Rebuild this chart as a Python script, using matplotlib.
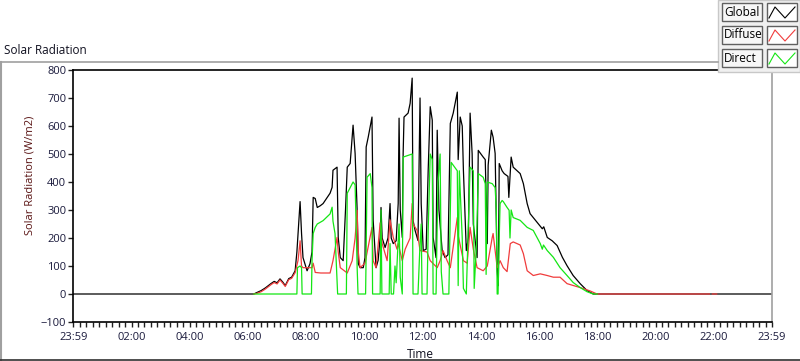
import matplotlib
matplotlib.use("Agg")
import matplotlib.pyplot as plt
from matplotlib.lines import Line2D
from matplotlib.patches import Rectangle
from matplotlib.ticker import FixedLocator, MultipleLocator
import numpy as np

plt.rcParams['font.family'] = ['Open Sans', 'DejaVu Sans']

# временные метки в часах, значения в W/m2
global_t = [0, 6.2, 6.3, 6.45, 6.6, 6.7, 6.8, 6.9, 7.0, 7.1, 7.2, 7.28, 7.4, 7.5, 7.62,
            7.68, 7.72, 7.79, 7.84, 7.89, 8.03, 8.13, 8.2, 8.24, 8.31, 8.38, 8.48, 8.58,
            8.82, 8.89, 8.92, 9.06, 9.1, 9.17, 9.27, 9.35, 9.41, 9.51, 9.58, 9.61, 9.68,
            9.75, 9.79, 9.85, 9.96, 10.02, 10.06, 10.13, 10.26, 10.3, 10.4, 10.47, 10.54,
            10.57, 10.61, 10.71, 10.81, 10.88, 10.92, 10.99, 11.09, 11.16, 11.19, 11.23,
            11.3, 11.33, 11.36, 11.5, 11.57, 11.64, 11.67, 11.74, 11.84, 11.91, 11.95,
            12.02, 12.12, 12.19, 12.26, 12.33, 12.36, 12.46, 12.5, 12.56, 12.67, 12.77,
            12.87, 12.95, 13.05, 13.19, 13.22, 13.29, 13.36, 13.4, 13.5, 13.57, 13.63,
            13.7, 13.74, 13.87, 13.91, 14.08, 14.15, 14.22, 14.25, 14.36, 14.42, 14.49,
            14.56, 14.6, 14.63, 14.73, 14.8, 14.93, 14.96, 15.04, 15.11, 15.35, 15.46,
            15.59, 15.69, 15.93, 16.11, 16.16, 16.28, 16.45, 16.62, 16.8, 16.96, 17.17,
            17.41, 17.65, 17.86, 24]
global_v = [0, 0, 5, 12, 22, 30, 38, 45, 40, 54, 42, 30, 55, 60, 83,
            150, 216, 330, 216, 130, 83, 108, 150, 345, 341, 309, 315, 323,
            360, 381, 442, 453, 202, 130, 119, 300, 453, 466, 560, 603, 502,
            299, 108, 94, 94, 130, 525, 560, 632, 263, 94, 120, 202,
            309, 200, 166, 200, 323, 200, 180, 190, 323, 628, 300,
            202, 502, 632, 646, 681, 771, 263, 227, 191, 700, 323,
            155, 160, 442, 669, 621, 202, 130, 585, 300, 155, 130,
            140, 609, 646, 721, 480, 632, 600, 442, 155, 200, 646,
            500, 250, 130, 513, 489, 480, 180, 460, 585, 560, 502,
            83, 30, 466, 440, 430, 420, 345, 489, 453, 430, 394,
            323, 287, 256, 233, 240, 202, 190, 173, 131, 101, 66,
            37, 12, 0, 0]

diffuse_t = [6.2, 6.3, 6.45, 6.6, 6.7, 6.8, 6.9, 7.0, 7.1, 7.2, 7.28, 7.4, 7.5, 7.62,
             7.72, 7.79, 7.84, 7.89, 8.03, 8.2, 8.24, 8.31, 8.5, 8.82, 8.92, 9.06, 9.1,
             9.17, 9.41, 9.58, 9.68, 9.75, 9.79, 9.85, 10.02, 10.26, 10.3, 10.4, 10.54,
             10.61, 10.78, 10.88, 10.99, 11.12, 11.16, 11.3, 11.4, 11.57, 11.64, 11.67,
             11.81, 11.91, 12.15, 12.26, 12.5, 12.6, 12.7, 12.84, 12.95, 13.19, 13.22,
             13.4, 13.53, 13.63, 13.74, 13.87, 14.08, 14.22, 14.39, 14.42, 14.56, 14.66,
             14.77, 14.9, 15.01, 15.11, 15.35, 15.46, 15.59, 15.8, 16.04, 16.28, 16.49,
             16.72, 16.96, 17.41, 17.75, 17.99, 18.2, 21.85, 21.86, 21.94, 21.95, 22.1]
diffuse_v = [0, 2, 8, 18, 26, 34, 41, 36, 50, 38, 27, 51, 56, 76,
             120, 190, 100, 94, 94, 94, 110, 77, 75, 75, 119, 202, 150,
             94, 75, 119, 200, 299, 150, 94, 110, 238, 119, 94, 254,
             180, 119, 265, 202, 160, 180, 119, 160, 200, 323, 250,
             227, 155, 150, 119, 94, 119, 155, 119, 94, 273, 210,
             119, 110, 238, 160, 94, 83, 100, 202, 216, 94, 119,
             94, 80, 180, 186, 175, 144, 83, 66, 72, 66, 60,
             60, 37, 23, 11, 0, 0, 0, np.nan, np.nan, 0, 0]

direct_t = [6.2, 7.68, 7.7, 7.79, 7.84, 7.86, 8.18, 8.2, 8.24, 8.31, 8.38, 8.58, 8.82,
            8.89, 8.92, 8.99, 9.06, 9.08, 9.38, 9.41, 9.51, 9.61, 9.68, 9.75, 9.78,
            10.04, 10.06, 10.09, 10.2, 10.26, 10.28, 10.54, 10.57, 10.6, 10.85, 10.88,
            10.92, 11.0, 11.05, 11.09, 11.14, 11.19, 11.23, 11.3, 11.33, 11.64, 11.67,
            11.84, 11.91, 11.95, 11.98, 12.15, 12.19, 12.26, 12.33, 12.36, 12.46, 12.5,
            12.53, 12.6, 12.64, 12.7, 12.9, 12.98, 13.05, 13.19, 13.22, 13.26, 13.36,
            13.4, 13.5, 13.57, 13.63, 13.74, 13.77, 13.85, 13.91, 14.08, 14.15, 14.18,
            14.22, 14.39, 14.49, 14.53, 14.56, 14.59, 14.63, 14.66, 14.73, 14.77, 14.9,
            14.97, 15.0, 15.04, 15.11, 15.35, 15.59, 15.8, 16.04, 16.11, 16.15, 16.28,
            16.49, 16.72, 16.96, 17.17, 17.41, 17.65, 17.86, 18.0]
direct_v = [0, 0, 94, 100, 94, 0, 0, 119, 216, 238, 250, 262, 286,
            310, 260, 216, 47, 0, 0, 360, 380, 400, 390, 94, 0,
            0, 155, 417, 430, 380, 0, 0, 300, 0, 0, 180,
            0, 0, 100, 40, 150, 250, 60, 0, 489, 500, 0,
            0, 180, 250, 0, 0, 227, 500, 480, 0, 0, 250,
            400, 500, 80, 0, 0, 470, 460, 440, 30, 440, 200,
            20, 0, 250, 453, 440, 20, 180, 430, 417, 394, 70,
            400, 394, 380, 300, 0, 0, 200, 323, 334, 330, 309,
            299, 200, 300, 273, 263, 238, 227, 180, 160, 175, 155,
            131, 94, 66, 41, 23, 8, 0, 0]

names = ['Global', 'Diffuse', 'Direct']
colors = ['#000000', '#f03c3c', '#14e614']

W, H = 800, 361
fig = plt.figure(figsize=(W / 100, H / 100), dpi=100)
fig.patch.set_facecolor('white')

def fx(x):
    return x / W

def fy(y):
    return 1 - y / H

# рамка панели графика
fig.add_artist(Line2D([fx(0.5), fx(718)], [fy(62), fy(62)], color='#a0a0a0', lw=1.2))
fig.add_artist(Line2D([fx(0.5), fx(0.5)], [fy(62), fy(361)], color='#a0a0a0', lw=1.5))
fig.add_artist(Line2D([fx(0), fx(800)], [fy(360), fy(360)], color='#303030', lw=1.2))

ax = fig.add_axes([fx(73.3), fy(322), fx(772 - 73.3), (322 - 70) / H])
ax.plot(global_t, global_v, color=colors[0], lw=0.9)
ax.plot(diffuse_t, diffuse_v, color=colors[1], lw=0.9)
ax.plot(direct_t, direct_v, color=colors[2], lw=0.9)

ax.set_xlim(0, 24)
ax.set_ylim(-100, 800)
ax.yaxis.set_major_locator(MultipleLocator(100))
ax.xaxis.set_major_locator(FixedLocator(np.arange(0, 25, 2)))
ax.xaxis.set_minor_locator(MultipleLocator(2 / 9))
xlabels = ['23:59'] + ['%02d:00' % h for h in range(2, 24, 2)] + ['23:59']
ax.set_xticklabels(xlabels)

tick_col = '#1a1a3c'
ax.tick_params(axis='both', which='both', direction='out', length=3.5, width=1,
               colors='#202020', labelcolor=tick_col, labelsize=8)
ax.tick_params(axis='x', pad=4)
ax.tick_params(axis='y', pad=1.5)
for s in ['left', 'top', 'bottom']:
    ax.spines[s].set_color('#000000')
    ax.spines[s].set_linewidth(1.2)
ax.spines['right'].set_color('#a0a0a0')
ax.spines['right'].set_linewidth(1.2)

fig.text(fx(4), fy(50), 'Solar Radiation', fontsize=8.5, color='#101020', va='center', ha='left')
fig.text(fx(30), fy(175), 'Solar Radiation (W/m2)', fontsize=8, color='#5a1414',
         rotation=90, va='center', ha='center')
fig.text(fx(420), fy(354), 'Time', fontsize=8.5, color='#101020', va='center', ha='center')

# легенда в стиле LabVIEW
fig.add_artist(Rectangle((fx(718), fy(72)), fx(82), 72 / H, facecolor='#f0f0f0',
                         edgecolor='#c8c8c8', lw=1))
rows = [3, 26, 49]
for name, col, y0 in zip(names, colors, rows):
    fig.add_artist(Rectangle((fx(722), fy(y0 + 18)), fx(40), 18 / H, facecolor='#f7f7f7',
                             edgecolor='#606060', lw=1))
    fig.text(fx(724), fy(y0 + 9), name, fontsize=8.5, color='#000000', va='center', ha='left')
    fig.add_artist(Rectangle((fx(767), fy(y0 + 18)), fx(30), 18 / H, facecolor='white',
                             edgecolor='#606060', lw=1))
    zx = [769, 775, 785, 795]
    zy = [y0 + 15, y0 + 4, y0 + 15, y0 + 4]
    fig.add_artist(Line2D([fx(v) for v in zx], [fy(v) for v in zy], color=col, lw=0.8))

fig.savefig('out.png', dpi=100)
